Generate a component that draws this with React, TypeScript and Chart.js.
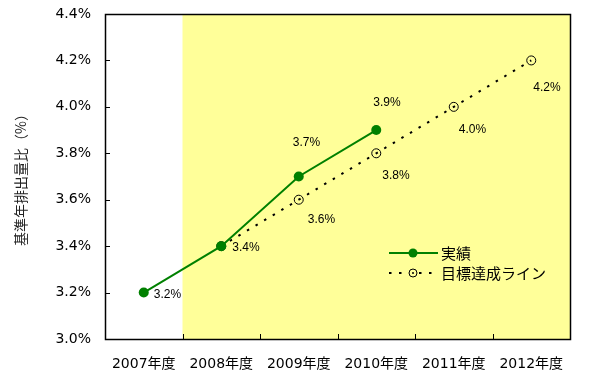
import React, { useEffect, useRef } from "react";
import { Chart, registerables } from "chart.js";

Chart.register(...registerables);

const categories = ["2007年度", "2008年度", "2009年度", "2010年度", "2011年度", "2012年度"];
const actualValues = [3.2, 3.4, 3.7, 3.9, null, null];
const targetValues = [null, 3.4, 3.6, 3.8, 4.0, 4.2];
const yTickValues = [3.0, 3.2, 3.4, 3.6, 3.8, 4.0, 4.2, 4.4];
const actualLabel = "実績";
const targetLabel = "目標達成ライン";
const yTitle = "基準年排出量比（%）";

// label placement styling (pixel offsets from each point, text left-aligned)
const actualLabelOffsets: ([number, number] | null)[] = [[10, 2], [11, 2], [-6, -34], [-3, -27], null, null];
const targetLabelOffsets: ([number, number] | null)[] = [null, null, [9, 20], [6, 22], [5, 23], [2, 27]];

const GREEN = "#008000";
const YELLOW = "#FFFF99";

const decorPlugin = {
  id: "decor",
  beforeDatasetsDraw(chart: any) {
    const { ctx, chartArea } = chart;
    const x = chart.scales.x;
    const y = chart.scales.y;
    ctx.save();
    ctx.fillStyle = "#ffffff";
    ctx.fillRect(chartArea.left, chartArea.top, chartArea.right - chartArea.left, chartArea.bottom - chartArea.top);
    const b = (x.getPixelForValue(0) + x.getPixelForValue(1)) / 2;
    ctx.fillStyle = YELLOW;
    ctx.fillRect(b, chartArea.top, chartArea.right - b, chartArea.bottom - chartArea.top);
    // inner ticks
    ctx.strokeStyle = "#000";
    ctx.lineWidth = 1;
    ctx.beginPath();
    yTickValues.forEach((v) => {
      const py = Math.round(y.getPixelForValue(v)) + 0.5;
      ctx.moveTo(chartArea.left, py);
      ctx.lineTo(chartArea.left + 5, py);
    });
    for (let i = 0; i < categories.length - 1; i++) {
      const px = Math.round((x.getPixelForValue(i) + x.getPixelForValue(i + 1)) / 2) + 0.5;
      ctx.moveTo(px, chartArea.bottom);
      ctx.lineTo(px, chartArea.bottom - 5);
    }
    ctx.stroke();
    ctx.lineWidth = 1.5;
    ctx.strokeRect(Math.round(chartArea.left) + 0.5, Math.round(chartArea.top) + 0.5, Math.round(chartArea.right - chartArea.left), Math.round(chartArea.bottom - chartArea.top));
    ctx.restore();
  },
  afterDraw(chart: any) {
    const { ctx, chartArea } = chart;
    ctx.save();
    // data labels
    ctx.font = "12px 'Liberation Sans'";
    ctx.fillStyle = "#000";
    ctx.textAlign = "left";
    ctx.textBaseline = "middle";
    const drawLabels = (dsIndex: number, values: (number | null)[], offs: ([number, number] | null)[]) => {
      const meta = chart.getDatasetMeta(dsIndex);
      values.forEach((v, i) => {
        const o = offs[i];
        if (v == null || !o) return;
        const el = meta.data[i];
        ctx.fillText(v.toFixed(1) + "%", el.x + o[0], el.y + o[1]);
      });
    };
    drawLabels(0, actualValues, actualLabelOffsets);
    drawLabels(1, targetValues, targetLabelOffsets);

    // legend
    const lx = chartArea.right - 181;
    const ly1 = chartArea.bottom - 86;
    const ly2 = ly1 + 20;
    ctx.strokeStyle = GREEN;
    ctx.lineWidth = 2;
    ctx.beginPath();
    ctx.moveTo(lx, ly1);
    ctx.lineTo(lx + 49, ly1);
    ctx.stroke();
    ctx.fillStyle = GREEN;
    ctx.beginPath();
    ctx.arc(lx + 24, ly1, 4.5, 0, Math.PI * 2);
    ctx.fill();
    ctx.strokeStyle = "#000";
    ctx.setLineDash([2.5, 7.5]);
    ctx.beginPath();
    ctx.moveTo(lx, ly2);
    ctx.lineTo(lx + 49, ly2);
    ctx.stroke();
    ctx.setLineDash([]);
    ctx.lineWidth = 1;
    ctx.fillStyle = YELLOW;
    ctx.beginPath();
    ctx.arc(lx + 24, ly2, 4, 0, Math.PI * 2);
    ctx.fill();
    ctx.stroke();
    ctx.fillStyle = "#000";
    ctx.beginPath();
    ctx.arc(lx + 24, ly2, 1, 0, Math.PI * 2);
    ctx.fill();
    ctx.font = "15px 'Noto Sans CJK JP'";
    ctx.fillStyle = "#000";
    ctx.textBaseline = "middle";
    ctx.fillText(actualLabel, lx + 52, ly1);
    ctx.fillText(targetLabel, lx + 52, ly2);
    ctx.restore();
  },
};

export default function App() {
  const ref = useRef<HTMLCanvasElement | null>(null);
  useEffect(() => {
    document.body.style.margin = "0";
    const chart = new Chart(ref.current as HTMLCanvasElement, {
      type: "line",
      data: {
        labels: categories,
        datasets: [
          {
            label: actualLabel,
            data: actualValues,
            borderColor: GREEN,
            backgroundColor: GREEN,
            borderWidth: 2,
            pointRadius: 5,
            pointBorderWidth: 0,
            pointBackgroundColor: GREEN,
            spanGaps: false,
          },
          {
            label: targetLabel,
            data: targetValues,
            borderColor: "#000",
            borderWidth: 2,
            borderDash: [2.5, 7.5],
            pointRadius: 4.5,
            pointBorderWidth: 1,
            pointBorderColor: "#000",
            pointBackgroundColor: "rgba(0,0,0,0)",
          },
        ],
      },
      options: {
        animation: false,
        responsive: false,
        events: [],
        layout: { padding: { top: 14, right: 19, bottom: 0, left: 0 } },
        plugins: { legend: { display: false }, tooltip: { enabled: false } },
        scales: {
          x: {
            offset: true,
            grid: { display: false, drawTicks: false },
            border: { display: false },
            ticks: { padding: 17, color: "#000", font: { family: "'DejaVu Sans', 'Noto Sans CJK JP'", size: 14 }, maxRotation: 0 },
            afterFit: (s: any) => { s.height = 42; s.paddingLeft = 0; s.paddingRight = 0; },
          },
          y: {
            min: 3.0,
            max: 4.4,
            grid: { display: false, drawTicks: false },
            border: { display: false },
            ticks: {
              stepSize: 0.2,
              padding: 14,
              color: "#000",
              font: { family: "'DejaVu Sans'", size: 14 },
              callback: (v: any) => Number(v).toFixed(1) + "%",
            },
            title: {
              display: true,
              text: yTitle,
              color: "#222",
              font: { family: "'Noto Sans CJK JP'", size: 14 },
              padding: { top: 12, bottom: 0 },
            },
            afterFit: (s: any) => { s.width = 105; s.paddingTop = 0; s.paddingBottom = 0; },
          },
        },
      },
      plugins: [decorPlugin],
    });
    return () => chart.destroy();
  }, []);
  return (
    <div style={{ width: 589, height: 381 }}>
      <canvas ref={ref} width={589} height={381} style={{ display: "block" }} />
    </div>
  );
}
